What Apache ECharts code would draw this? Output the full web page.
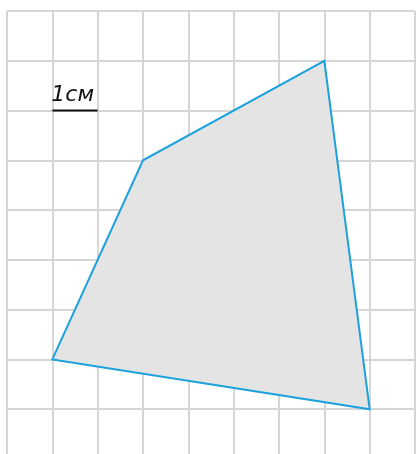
<!DOCTYPE html>
<html>
<head>
<meta charset="utf-8">
<script src="https://cdn.jsdelivr.net/npm/echarts@6/dist/echarts.min.js"></script>
<style>
html,body{margin:0;padding:0;background:#fff;}
#chart{width:416px;height:454px;}
</style>
</head>
<body>
<div id="chart"></div>
<script>
// Polygon vertices in grid units (column from left, row from top)
var polygonCols = [1, 3, 7, 8];
var polygonRows = [7, 3, 1, 8];
// Scale bar: 1 cm segment
var scaleBarCols = [1, 2];
var scaleBarRow = 2;
var scaleLabel = '1см';

var chart = echarts.init(document.getElementById('chart'), null, {renderer: 'canvas'});

var option = {
  animation: false,
  backgroundColor: '#ffffff',
  grid: {left: 7, right: 1, top: 11, bottom: 0, containLabel: false},
  xAxis: {
    type: 'value', min: 0, max: 9, interval: 1,
    axisLine: {show: false}, axisTick: {show: false}, axisLabel: {show: false},
    splitLine: {show: true, lineStyle: {color: '#d6d6d6', width: 2}}
  },
  yAxis: {
    type: 'value', inverse: true, min: 0, max: 8.9, interval: 1,
    axisLine: {show: false}, axisTick: {show: false}, axisLabel: {show: false},
    splitLine: {show: true, showMaxLine: false, lineStyle: {color: '#d6d6d6', width: 2}}
  },
  series: [
    {
      type: 'custom',
      data: [[0]],
      silent: true,
      renderItem: function (params, api) {
        var pts = polygonCols.map(function (c, i) { return api.coord([c, polygonRows[i]]); });
        return {
          type: 'polygon',
          shape: {points: pts},
          style: {fill: '#e4e4e4', stroke: '#1ba1dc', lineWidth: 2, lineJoin: 'miter'}
        };
      }
    },
    {
      type: 'custom',
      data: [[0]],
      silent: true,
      renderItem: function (params, api) {
        var p0 = api.coord([scaleBarCols[0], scaleBarRow]);
        var p1 = api.coord([scaleBarCols[1], scaleBarRow]);
        return {
          type: 'group',
          children: [
            {type: 'line', shape: {x1: p0[0], y1: p0[1], x2: p1[0], y2: p1[1]},
             style: {stroke: '#111111', lineWidth: 2}},
            {type: 'text', style: {
              text: scaleLabel, x: p0[0] - 1, y: p0[1] - 4,
              verticalAlign: 'bottom', align: 'left',
              font: 'italic 500 22px "DejaVu Sans", sans-serif',
              fill: '#111111'
            }}
          ]
        };
      }
    }
  ]
};
chart.setOption(option);
</script>
</body>
</html>
